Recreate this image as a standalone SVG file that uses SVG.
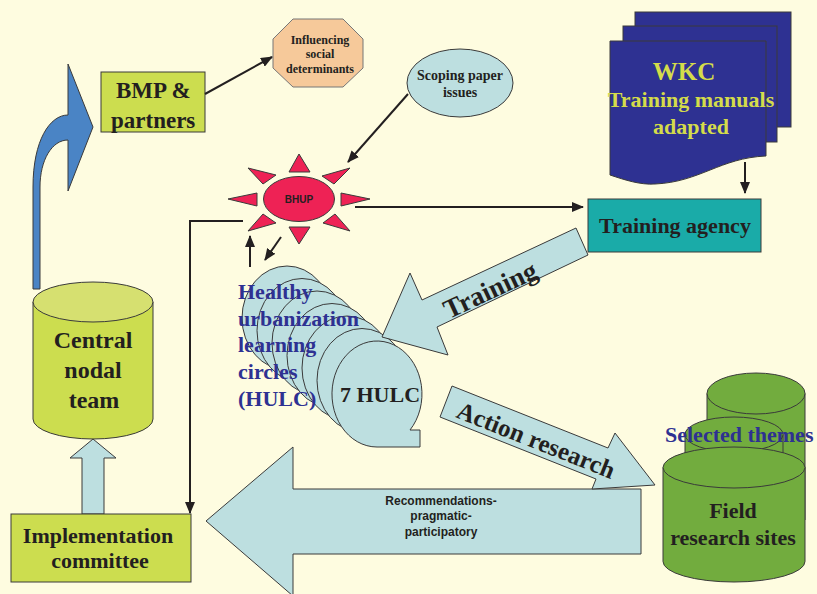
<svg xmlns="http://www.w3.org/2000/svg" width="817" height="594" viewBox="0 0 817 594">
<defs>
<marker id="ah" markerUnits="userSpaceOnUse" markerWidth="12" markerHeight="10" refX="11" refY="5" orient="auto">
<path d="M0,0 L12,5 L0,10 Z" fill="#231F20"/>
</marker>
<style>
.bg{fill:#FEFCE0}
.ln{fill:none;stroke:#231F20;stroke-width:2}
.sh{stroke:#3A3A3A;stroke-width:1}
.lb{fill:#BDDFE0}
.yg{fill:#CCDD4F}
.gr{fill:#72AC3E}
.sf{font-family:"Liberation Serif","Times New Roman",serif;font-weight:bold;fill:#231F20}
.ss{font-family:"Liberation Sans",Arial,sans-serif;font-weight:bold;fill:#231F20}
.bl{fill:#2E3192}
.yt{fill:#D4DC4A}
</style>
</defs>
<rect class="bg" x="0" y="0" width="817" height="594"/>

<g id="blue-arrow">
<path class="sh" fill="#4A84C5" d="M33,289 L33,187 C33,140 50,115 68,115 L68,64 L93,127 L68,191 L68,140 C52,140 40,160 40,187 L40,289 Z"/>
</g>

<g id="bmp">
<rect class="yg sh" x="101" y="72" width="104" height="60"/>
<text class="sf" x="116" y="98" font-size="23">BMP &amp;</text>
<text class="sf" x="111" y="128" font-size="23">partners</text>
</g>

<g id="influencing">
<polygon fill="#F6C99A" stroke="#777" stroke-width="1" points="293,19 343,19 363,39 363,68 343,87 293,87 273,68 273,39"/>
<text class="sf" font-size="12" text-anchor="middle"><tspan x="320" y="44">Influencing</tspan><tspan x="320" y="58">social</tspan><tspan x="320" y="73">determinants</tspan></text>
</g>

<g id="scoping">
<ellipse class="lb sh" cx="460" cy="83" rx="53" ry="34"/>
<text class="sf" font-size="14" text-anchor="middle"><tspan x="460" y="80">Scoping paper</tspan><tspan x="460" y="97">issues</tspan></text>
</g>

<g id="bhup">
<g fill="#EE2255" class="sh">
<polygon points="299,154 289,172 310,172"/>
<polygon points="299,244 289,227 310,227"/>
<polygon points="228,199 257,193 257,206"/>
<polygon points="370,199 341,193 341,206"/>
<polygon points="248,168 276,175 263,184"/>
<polygon points="350,168 322,176 334,184"/>
<polygon points="248,231 276,223 263,214"/>
<polygon points="350,231 323,223 335,214"/>
<ellipse cx="299" cy="199" rx="35.5" ry="22.5"/>
</g>
<text class="ss" x="299" y="203" font-size="10" text-anchor="middle">BHUP</text>
</g>

<g id="wkc">
<rect fill="#2E3192" class="sh" x="635" y="12" width="156" height="115"/>
<rect fill="#2E3192" class="sh" x="623" y="26" width="154" height="116"/>
<path fill="#2E3192" class="sh" d="M610,41 L766,41 L766,156 C720,158 700,182 655,184 C640,185 625,180 610,175 Z"/>
<text class="sf yt" x="684" y="80" font-size="25" text-anchor="middle">WKC</text>
<text class="sf yt" x="691" y="107" font-size="22" text-anchor="middle">Training manuals</text>
<text class="sf yt" x="691" y="134" font-size="22" text-anchor="middle">adapted</text>
</g>

<g id="training-agency">
<rect fill="#1AABA8" class="sh" x="588" y="199" width="173" height="53"/>
<text class="sf" x="675" y="233" font-size="22" text-anchor="middle">Training agency</text>
</g>

<g id="hulc">
<g class="lb sh">
<ellipse cx="287" cy="318" rx="45" ry="52"/>
<ellipse cx="302" cy="330.5" rx="45" ry="52"/>
<ellipse cx="317" cy="343" rx="45" ry="52"/>
<ellipse cx="332" cy="355.5" rx="45" ry="52"/>
<ellipse cx="347" cy="368" rx="45" ry="52"/>
<ellipse cx="362" cy="380.5" rx="45" ry="52"/>
<path d="M410,430 L420,430 L420,447 L377,447 A45,53 0 1 1 410,430 Z"/>
</g>
<text class="sf" x="340" y="402" font-size="22">7 HULC</text>
<text class="sf bl" font-size="22"><tspan x="238" y="299">Healthy</tspan><tspan x="238" y="326">urbanization</tspan><tspan x="238" y="352">learning</tspan><tspan x="238" y="379">circles</tspan><tspan x="238" y="406">(HULC)</tspan></text>
</g>

<g id="training-arrow">
<path class="lb sh" d="M576,228 L422,300 L410,273 L382,337 L448,355 L437,327 L588,255 Z"/>
<text class="sf" font-size="27" text-anchor="middle" transform="translate(494,298) rotate(-25.1)">Training</text>
</g>

<g id="recommendations">
<path class="lb sh" d="M206,521 L293,447 L293,489 L641,489 L641,554 L293,554 L293,596 Z"/>
<text class="ss" font-size="12" text-anchor="middle" fill="#333"><tspan x="441" y="505">Recommendations-</tspan><tspan x="441" y="520">pragmatic-</tspan><tspan x="441" y="536">participatory</tspan></text>
</g>

<g id="action-arrow">
<path class="lb sh" d="M452,386 L608,448 L615,433 L655,485 L592,489 L596,479 L440,417 Z"/>
<text class="sf" font-size="25" text-anchor="middle" transform="translate(533,448) rotate(21.7)">Action research</text>
</g>

<g id="field">
<g class="gr sh">
<path d="M707,393.5 L707,520 L805,520 L805,393.5 Z"/>
<ellipse cx="756" cy="393.5" rx="49" ry="20.5"/>
<path d="M685,434.5 L685,500 L783,500 L783,434.5 Z"/>
<ellipse cx="734" cy="434.5" rx="49" ry="17.5"/>
<path d="M663,467.5 L663,561.5 A71,20.5 0 0 0 805,561.5 L805,467.5 Z"/>
<ellipse cx="734" cy="467.5" rx="71" ry="20.5"/>
</g>
<text class="sf bl" x="665" y="442" font-size="22">Selected themes</text>
<text class="sf" x="733" y="518" font-size="22" text-anchor="middle">Field</text>
<text class="sf" x="733" y="545" font-size="22" text-anchor="middle">research sites</text>
</g>

<g id="central">
<path class="yg sh" d="M33,302 L33,419 A60,20 0 0 0 153,419 L153,302 Z"/>
<ellipse cx="93" cy="302" rx="60" ry="20" fill="#D6E070" class="sh"/>
<text class="sf" font-size="24" text-anchor="middle"><tspan x="93" y="348">Central</tspan><tspan x="93" y="378">nodal</tspan><tspan x="94" y="408">team</tspan></text>
</g>

<g id="up-arrow">
<path class="lb sh" d="M82,514 L82,458 L70,458 L93,439 L116,458 L104,458 L104,514 Z"/>
</g>

<g id="implementation">
<rect class="yg sh" x="11" y="514" width="180" height="68"/>
<text class="sf" font-size="22" text-anchor="middle"><tspan x="98" y="543">Implementation</tspan><tspan x="100" y="568">committee</tspan></text>
</g>

<g id="connectors">
<line class="ln" x1="205" y1="94" x2="272" y2="57" marker-end="url(#ah)"/>
<line class="ln" x1="408" y1="94" x2="348" y2="162" marker-end="url(#ah)"/>
<line class="ln" x1="355" y1="207" x2="583" y2="207" marker-end="url(#ah)"/>
<line class="ln" x1="745" y1="162" x2="745" y2="193" marker-end="url(#ah)"/>
<line class="ln" x1="250" y1="267" x2="250" y2="236" marker-end="url(#ah)"/>
<line class="ln" x1="281" y1="237" x2="265" y2="260" marker-end="url(#ah)"/>
<polyline class="ln" points="243,221 190,221 190,513" marker-end="url(#ah)"/>
</g>
</svg>
